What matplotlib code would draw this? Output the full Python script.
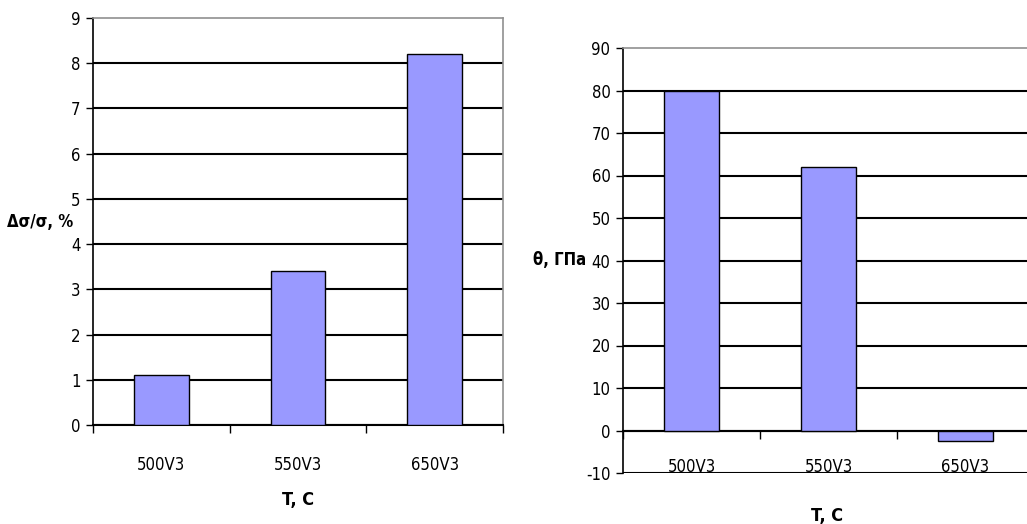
import matplotlib
matplotlib.use("Agg")
import matplotlib.pyplot as plt
from matplotlib import font_manager as fm

categories = ["500V3", "550V3", "650V3"]
left_values = [1.1, 3.4, 8.2]
right_values = [80, 62, -2.5]
left_yticks = list(range(0, 10))
right_yticks = list(range(-10, 100, 10))
left_ylabel = "Δσ/σ, %"
right_ylabel = "θ, ГПа"
xlabel_text = "T, C"

names = {f.name for f in fm.fontManager.ttflist}
cond = any(f.name == "DejaVu Sans" and "condensed" in str(f.stretch) for f in fm.fontManager.ttflist)
if "Liberation Sans Narrow" in names:
    FONT = dict(family=["Liberation Sans Narrow", "DejaVu Sans"])
elif cond:
    FONT = dict(family=["DejaVu Sans"], stretch="condensed")
else:
    FONT = dict(family=["Liberation Sans", "DejaVu Sans"])
plt.rcParams['font.family'] = FONT["family"]
if "stretch" in FONT:
    plt.rcParams['font.stretch'] = FONT["stretch"]

BAR = "#9999FF"
W, H = 1027, 524
fig = plt.figure(figsize=(W / 100, H / 100), dpi=100)
TFS = 12


def setup(ax, values, yticks, ylim, ylabel, ylab_pos, xlab_pos, label_pad, zero_spine):
    if zero_spine:
        ax.spines["bottom"].set_position(("data", 0))
    pos = [i + 0.5 for i in range(len(categories))]
    ax.bar(pos, values, width=0.4, color=BAR, edgecolor="black", linewidth=1.0, zorder=3)
    ax.set_xlim(0, len(categories))
    ax.set_ylim(*ylim)
    ax.set_yticks(yticks)
    ax.set_yticklabels([str(v) for v in yticks], fontsize=TFS)
    ax.tick_params(axis="y", direction="out", length=5, width=1, pad=4, color="black")
    ax.set_xticks(range(0, len(categories) + 1))
    ax.set_xticklabels([])
    ax.set_xticks(pos, minor=True)
    ax.set_xticklabels(categories, minor=True, fontsize=TFS)
    ax.tick_params(axis="x", which="major", direction="out", length=6, width=1, color="black")
    ax.tick_params(axis="x", which="minor", length=0, pad=label_pad)
    ax.yaxis.grid(True, color="black", linewidth=1.5, zorder=1)
    ax.set_axisbelow(True)
    gl = ax.get_ygridlines()
    gl[-1].set_visible(False)
    for s in ["top", "right"]:
        ax.spines[s].set_color("#909090")
        ax.spines[s].set_linewidth(1.2)
    ax.spines["left"].set_color("black")
    ax.spines["left"].set_linewidth(1.2)
    ax.spines["bottom"].set_color("black")
    ax.spines["bottom"].set_linewidth(1.5)
    ax.set_ylabel(ylabel, rotation=0, fontsize=12, fontweight="bold")
    ax.yaxis.set_label_coords(*ylab_pos)
    ax.yaxis.label.set_horizontalalignment("center")
    ax.yaxis.label.set_verticalalignment("center")
    ax.set_xlabel(xlabel_text, fontsize=13, fontweight="bold")
    ax.xaxis.set_label_coords(*xlab_pos)
    ax.xaxis.label.set_verticalalignment("center")


ax1 = fig.add_axes([93 / W, (H - 425) / H, 410 / W, 407 / H])
setup(ax1, left_values, left_yticks, (0, 9), left_ylabel,
      (-0.129, 0.499), (0.5, -0.184), 22, False)

ax2 = fig.add_axes([623 / W, (H - 473) / H, 411 / W, 425 / H])
setup(ax2, right_values, right_yticks, (-10, 90), right_ylabel,
      (-0.155, 0.501), (0.496, -0.101), 20, True)
ax2.spines["right"].set_visible(False)

fig.savefig("out.png", dpi=100)
